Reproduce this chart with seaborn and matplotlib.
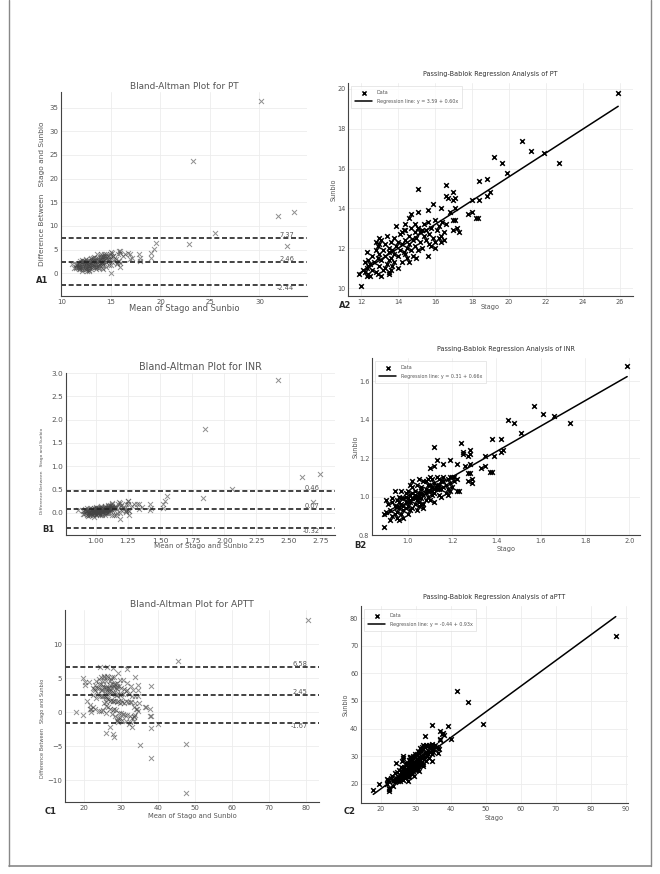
import numpy as np
import pandas as pd
import matplotlib
matplotlib.use('Agg')
import matplotlib.pyplot as plt
import seaborn as sns
from matplotlib.lines import Line2D

# --- PT (stago, sunbio) pairs ---
pt_stago = [
    25.9, 20.7, 21.2, 21.9, 22.7, 19.2, 19.6, 19.9, 18.4, 18.8, 18.4, 18.8, 18.95, 18.0, 18.0, 17.8, 18.2, 18.3,
    15.1, 16.6, 16.6, 16.7, 17.0, 17.0, 17.1, 17.1, 16.8, 17.0, 17.1, 17.0, 17.2, 17.3, 16.6, 16.3, 15.9, 15.6,
    15.1, 14.7, 14.6, 15.6, 12.0, 11.9, 16.3, 16.5, 16.0, 15.8, 13.5, 13.5, 12.3, 12.5, 12.2, 12.4, 12.3, 12.8,
    13.0, 15.1, 14.4,
    12.3, 12.4, 12.5, 12.6, 12.6, 12.7, 12.8, 12.8, 12.9, 12.9, 13.0, 13.0, 13.1, 13.1, 13.2, 13.2, 13.3, 13.3,
    13.4, 13.4, 13.5, 13.5, 13.6, 13.6, 13.7, 13.7, 13.8, 13.8, 13.9, 13.9, 14.0, 14.0, 14.1, 14.1, 14.2, 14.2,
    14.3, 14.3, 14.4, 14.4, 14.5, 14.5, 14.6, 14.6, 14.7, 14.7, 14.8, 14.8, 14.9, 14.9, 15.0, 15.0, 15.1, 15.2,
    15.2, 15.3, 15.4, 15.4, 15.5, 15.5, 15.6, 15.7, 15.8, 15.9, 16.0, 16.1, 16.2, 16.3, 16.4, 16.5, 12.1, 12.2,
    12.4, 12.9, 13.0, 13.1, 13.3, 13.5, 13.6, 13.8, 14.0, 14.2, 14.4, 14.6, 14.9, 15.1, 15.3, 15.7, 16.0, 16.2,
    # outliers beyond the regression panel
    35.15, 48.35, 37.9, 39.95, 35.7, 29.8,
]
pt_sunbio = [
    19.8, 17.4, 16.9, 16.8, 16.3, 16.6, 16.3, 15.8, 15.4, 15.5, 14.4, 14.6, 14.8, 14.4, 13.8, 13.7, 13.5, 13.5,
    15.0, 15.2, 14.6, 14.5, 14.8, 14.4, 14.5, 14.0, 13.8, 13.4, 13.4, 12.9, 13.0, 12.8, 13.2, 14.0, 14.2, 13.9,
    13.8, 13.7, 13.5, 11.6, 10.1, 10.7, 12.3, 12.4, 12.3, 12.1, 10.7, 10.8, 10.6, 10.6, 10.8, 11.1, 11.8, 12.3,
    12.5, 13.0, 12.9,
    11.0, 11.4, 11.2, 10.9, 11.6, 11.3, 11.9, 10.8, 11.5, 12.1, 11.1, 11.7, 12.4, 11.4, 10.9, 11.9, 11.6, 12.2,
    11.2, 12.6, 11.8, 12.0, 11.5, 12.3, 11.9, 11.1, 12.5, 11.7, 12.1, 13.1, 11.6, 12.3, 11.9, 12.7, 11.3, 12.2,
    12.9, 11.8, 12.4, 13.2, 12.0, 11.5, 12.6, 12.2, 11.9, 13.0, 12.4, 11.6, 12.8, 12.1, 12.5, 11.5, 13.0, 12.3,
    12.8, 12.0, 12.6, 13.2, 12.4, 12.9, 13.3, 12.7, 13.0, 12.5, 13.4, 12.9, 13.1, 12.6, 13.3, 12.8, 10.9, 11.3,
    10.7, 10.7, 12.2, 10.6, 11.0, 11.4, 10.9, 11.3, 11.0, 12.8, 11.7, 11.3, 13.2, 11.9, 12.9, 12.2, 12.0, 12.5,
    11.45, 12.05, 25.9, 27.05, 29.9, 21.2,
]

# --- INR (stago, sunbio) pairs ---
inr_stago = [
    1.99, 1.57, 1.61, 1.66, 1.73, 1.45, 1.48, 1.51, 1.38, 1.42, 1.42, 1.43, 1.39, 1.35, 1.35, 1.33, 1.37, 1.38,
    1.12, 1.24, 1.25, 1.25, 1.28, 1.28, 1.27, 1.28, 1.26, 1.27, 1.28, 1.29, 1.29, 1.27, 1.22, 1.19, 1.16, 1.12,
    1.10, 1.13, 1.21, 1.22, 1.22, 1.23, 1.19, 1.18, 0.89, 1.02, 1.01, 0.89, 0.90, 0.90, 0.91, 0.92, 0.93, 0.94,
    0.96, 0.95,
    0.92, 0.93, 0.94, 0.95, 0.95, 0.96, 0.96, 0.97, 0.97, 0.98, 0.98, 0.99, 0.99, 1.00, 1.00, 1.00, 1.01, 1.01,
    1.02, 1.02, 1.03, 1.03, 1.04, 1.04, 1.05, 1.05, 1.06, 1.06, 1.07, 1.07, 1.08, 1.08, 1.09, 1.09, 1.10, 1.10,
    1.11, 1.11, 1.12, 1.12, 1.13, 1.13, 1.14, 1.14, 1.15, 1.15, 1.16, 1.17, 1.17, 1.18, 0.93, 0.94, 0.96, 0.97,
    0.98, 0.99, 1.00, 1.01, 1.02, 1.03, 1.04, 1.05, 1.06, 1.07, 1.08, 1.09, 1.10, 1.11, 1.12, 1.13, 1.14, 1.15,
    1.16, 1.18, 1.19, 1.20, 1.20, 1.21, 1.05, 1.07, 0.95, 0.97, 0.99, 1.01, 1.03, 1.05, 1.06, 1.08, 1.10, 1.12,
    0.98, 1.00, 1.02, 1.04, 1.06, 1.09, 1.11, 1.14, 1.16, 1.19,
    # outliers beyond the regression panel
    3.845, 2.745, 2.98, 3.15, 2.31, 2.80,
]
inr_sunbio = [
    1.68, 1.47, 1.43, 1.42, 1.38, 1.40, 1.38, 1.33, 1.30, 1.30, 1.23, 1.24, 1.21, 1.21, 1.16, 1.15, 1.13, 1.13,
    1.26, 1.28, 1.23, 1.22, 1.24, 1.22, 1.21, 1.17, 1.16, 1.12, 1.12, 1.09, 1.07, 1.08, 1.17, 1.19, 1.17, 1.16,
    1.15, 1.19, 1.10, 1.09, 1.03, 1.03, 1.03, 1.01, 0.84, 1.08, 1.06, 0.91, 0.92, 0.98, 0.96, 0.88, 0.97, 1.03,
    0.88, 0.89,
    0.93, 0.90, 0.95, 0.92, 0.98, 0.94, 1.00, 0.91, 0.96, 0.99, 0.93, 0.97, 1.02, 0.95, 0.99, 0.91, 0.97, 1.01,
    0.94, 0.99, 1.03, 0.96, 1.00, 0.93, 1.02, 0.97, 1.05, 0.99, 1.01, 0.96, 1.04, 1.08, 1.00, 1.06, 1.03, 0.98,
    1.05, 1.09, 1.02, 1.07, 1.04, 1.10, 1.06, 1.01, 1.08, 1.04, 1.10, 1.06, 1.02, 1.09, 0.99, 0.91, 0.97, 1.03,
    0.89, 0.94, 1.03, 0.93, 1.05, 0.99, 1.06, 0.95, 1.02, 1.08, 0.98, 1.03, 1.10, 1.01, 0.97, 1.06, 1.09, 1.00,
    1.05, 1.04, 1.07, 1.10, 1.05, 1.08, 1.09, 0.94, 0.95, 0.99, 1.00, 0.98, 1.01, 1.00, 1.04, 1.02, 1.06, 1.04,
    0.95, 0.97, 1.02, 0.98, 0.96, 1.09, 1.03, 1.04, 1.08, 1.10,
    0.995, 0.955, 2.22, 2.33, 1.81, 2.58,
]

# --- APTT (stago, sunbio) pairs ---
aptt_stago = [
    87.1, 41.6, 45.0, 49.1, 34.5, 39.2, 36.8, 37.5, 38.0, 32.5, 40.0, 36.8, 17.8, 19.4, 22.2, 22.4, 21.6, 22.0,
    24.4, 36.2, 36.5,
    23.5, 24.0, 24.2, 24.5, 24.8, 25.0, 25.2, 25.4, 25.5, 25.7, 25.9, 26.0, 26.1, 26.3, 26.4, 26.5, 26.6, 26.8,
    26.9, 27.0, 27.1, 27.2, 27.3, 27.4, 27.5, 27.6, 27.7, 27.8, 27.9, 28.0, 28.1, 28.2, 28.3, 28.4, 28.5, 28.6,
    28.7, 28.8, 28.9, 29.0, 29.1, 29.2, 29.3, 29.4, 29.5, 29.6, 29.7, 29.8, 29.9, 30.0, 30.1, 30.2, 30.3, 30.4,
    30.5, 30.6, 30.8, 30.9, 31.0, 31.1, 31.2, 31.4, 31.5, 31.6, 31.8, 32.0, 32.1, 32.3, 32.5, 32.7, 32.9, 33.0,
    33.2, 33.5, 33.7, 34.0, 34.3, 34.6, 35.0, 35.4, 26.2, 26.7, 27.2, 27.8, 28.3, 28.8, 29.3, 29.8, 30.3, 30.9,
    31.4, 32.0, 32.6, 33.1, 33.6, 24.6, 25.3, 25.8, 30.6, 31.7, 27.0, 27.5, 28.0, 28.5, 29.0, 29.5, 30.0, 30.5,
    26.0, 26.5, 27.3, 28.6, 29.6, 31.2, 32.8, 22.8, 23.2, 24.0, 28.1, 29.1, 33.4, 34.8, 35.8, 36.2, 33.9, 34.5,
    29.4, 31.0, 30.7, 27.6, 26.2, 26.3, 25.9, 31.9, 28.3, 28.3, 28.2, 37.6, 36.9, 34.3, 34.6, 33.2, 21.7, 21.9,
    22.3, 23.4, 22.0, 24.2, 34.7, 32.0,
]
aptt_sunbio = [
    73.5, 53.5, 49.7, 41.6, 41.3, 40.9, 39.2, 38.0, 37.5, 37.4, 36.2, 36.0, 17.8, 19.8, 17.2, 18.0, 20.0, 21.5,
    27.5, 31.0, 32.5,
    21.0, 20.5, 22.1, 21.3, 20.8, 22.4, 21.7, 23.0, 20.9, 22.2, 23.6, 21.8, 22.9, 24.0, 21.5, 23.3, 22.5, 24.4,
    23.0, 21.9, 24.1, 23.5, 25.2, 22.8, 24.6, 23.9, 26.0, 24.2, 22.6, 25.1, 24.5, 26.4, 23.7, 25.6, 24.9, 27.0,
    25.3, 23.5, 26.1, 25.0, 27.4, 24.6, 26.5, 25.8, 28.0, 26.9, 24.8, 27.3, 26.2, 28.4, 25.9, 27.7, 26.7, 29.0,
    27.1, 25.5, 28.3, 27.0, 29.5, 26.8, 28.6, 27.6, 30.2, 28.0, 29.2, 27.3, 30.5, 28.9, 31.0, 29.6, 28.2, 31.5,
    30.0, 32.0, 29.4, 31.6, 33.0, 30.8, 32.6, 34.0, 25.3, 26.0, 26.8, 27.5, 27.9, 28.5, 29.4, 29.9, 30.6, 31.3,
    31.8, 32.6, 33.4, 33.8, 34.0, 24.4, 25.0, 25.9, 31.9, 33.2, 24.8, 25.5, 22.9, 26.8, 23.8, 25.4, 24.9, 26.3,
    24.6, 25.0, 27.6, 29.5, 30.8, 32.9, 34.1, 22.0, 22.7, 23.8, 28.7, 30.0, 30.7, 31.5, 33.4, 33.0, 33.2, 34.3,
    22.7, 24.5, 28.9, 20.9, 29.4, 30.0, 28.1, 34.1, 29.6, 29.8, 29.4, 38.2, 36.2, 33.8, 34.1, 33.8, 21.7, 21.4,
    18.3, 19.0, 21.0, 20.8, 28.3, 26.3,
]

# Bland-Altman bias and limits of agreement (upper, mean, lower)
pt_lines = [7.37, 2.46, -2.44]
inr_lines = [0.46, 0.07, -0.32]
aptt_lines = [6.58, 2.45, -1.67]

# Passing-Bablok coefficients (intercept, slope)
pt_coef = (3.59, 0.60)
inr_coef = (0.31, 0.66)
aptt_coef = (-0.44, 0.93)

sns.set_theme(style='whitegrid')
plt.rcParams['font.family'] = ['DejaVu Sans']

W, H = 660, 874
fig = plt.figure(figsize=(6.6, 8.74), dpi=100)
GRAY = '#555555'


def rect(l, t, r, b):
    return [l / W, 1 - b / H, (r - l) / W, (b - t) / H]


def style(ax, fs, stretch='normal'):
    for s in ['top', 'right']:
        ax.spines[s].set_visible(False)
    for s in ['left', 'bottom']:
        ax.spines[s].set_color('#444444')
        ax.spines[s].set_linewidth(0.8)
    ax.grid(True, color='#ececec', linewidth=0.6)
    ax.tick_params(length=0, pad=2, labelsize=fs, colors=GRAY)
    for t in ax.get_xticklabels() + ax.get_yticklabels():
        t.set_fontstretch(stretch)


def bland_altman(box, stago, sunbio, lines, title, xlim, ylim, xticks, yticks, fmt, fs):
    f_title, f_tick, f_xl, f_yl, yl_pos, xl_pos = fs
    ax = fig.add_axes(rect(*box))
    s = np.array(stago)
    b = np.array(sunbio)
    df = pd.DataFrame({'mean': (s + b) / 2, 'diff': s - b})
    sns.scatterplot(data=df, x='mean', y='diff', marker='x', color='#444444', alpha=0.6,
                    s=13, linewidth=0.7, ax=ax)
    xr = df['mean'].max()
    for i, v in enumerate(lines):
        ax.axhline(v, color='#222222', linestyle=(0, (3, 1.6)), linewidth=1.2)
        ax.text(xr, v, f'{v:.2f}', ha='right', va='bottom' if i < 2 else 'top',
                fontsize=4.8, color=GRAY)
    ax.set_xlim(*xlim)
    ax.set_ylim(*ylim)
    ax.set_xticks(xticks)
    ax.set_yticks(yticks)
    ax.xaxis.set_major_formatter(plt.FormatStrFormatter(fmt))
    ax.set_title(title, fontsize=f_title, color=GRAY, pad=2)
    ax.set_xlabel('Mean of Stago and Sunbio', fontsize=f_xl, color=GRAY)
    ax.set_ylabel('Difference Between   Stago and Sunbio', fontsize=f_yl, color=GRAY)
    ax.yaxis.set_label_coords(*yl_pos)
    ax.xaxis.set_label_coords(*xl_pos)
    style(ax, f_tick)
    return ax


def passing_bablok(box, stago, sunbio, coef, title, xmax, xlim, ylim, xticks, yticks, yl_pos, xl_pos):
    ax = fig.add_axes(rect(*box))
    s = np.array(stago)
    b = np.array(sunbio)
    keep = s <= xmax
    df = pd.DataFrame({'Stago': s[keep], 'Sunbio': b[keep]})
    sns.scatterplot(data=df, x='Stago', y='Sunbio', marker='x', color='black', s=11,
                    linewidth=1.1, label='Data', ax=ax)
    xs = np.array([df['Stago'].min(), df['Stago'].max()])
    a, k = coef
    lbl = f'Regression line: y = {a:.2f} + {k:.2f}x'
    sns.lineplot(x=xs, y=a + k * xs, color='black', linewidth=1.1, label=lbl, ax=ax)
    ax.set_xlim(*xlim)
    ax.set_ylim(*ylim)
    ax.set_xticks(xticks)
    ax.set_yticks(yticks)
    ax.set_title(title, fontsize=5.2, color='#333333', pad=5, fontstretch='condensed')
    ax.set_xlabel('Stago', fontsize=5.2, color=GRAY, fontstretch='condensed')
    ax.set_ylabel('Sunbio', fontsize=5.2, color=GRAY, fontstretch='condensed')
    ax.yaxis.set_label_coords(*yl_pos)
    ax.xaxis.set_label_coords(*xl_pos)
    leg = ax.legend(loc='upper left', prop={'size': 3.9, 'stretch': 'condensed'}, frameon=True,
                    fancybox=False, borderpad=0.7, handlelength=3.2, labelspacing=0.8,
                    markerscale=0.9, borderaxespad=0.6)
    leg.get_frame().set_edgecolor('#dddddd')
    leg.get_frame().set_linewidth(0.6)
    for t in leg.get_texts():
        t.set_color(GRAY)
    style(ax, 5.2, 'condensed')
    return ax


bland_altman((61, 92, 307, 296), pt_stago, pt_sunbio, pt_lines, 'Bland-Altman Plot for PT',
             (9.95, 34.8), (-4.8, 38.3), [10, 15, 20, 25, 30], range(0, 36, 5), '%d',
             (6.4, 5.0, 6.0, 5.3, (-0.065, 0.5), (0.5, -0.04)))
passing_bablok((348, 83, 633, 296), pt_stago, pt_sunbio, pt_coef,
               'Passing-Bablok Regression Analysis of PT', 26,
               (11.3, 26.7), (9.6, 20.3), range(12, 27, 2), range(10, 21, 2),
               (-0.039, 0.5), (0.5, -0.038))

bland_altman((66, 373, 335, 535), inr_stago, inr_sunbio, inr_lines, 'Bland-Altman Plot for INR',
             (0.77, 2.86), (-0.48, 3.0), np.arange(1.0, 2.76, 0.25), np.arange(0, 3.01, 0.5), '%.2f',
             (6.9, 5.3, 5.1, 3.2, (-0.082, 0.395), (0.5, -0.05)))
passing_bablok((372, 358, 640, 535), inr_stago, inr_sunbio, inr_coef,
               'Passing-Bablok Regression Analysis of INR', 2.0,
               (0.838, 2.048), (0.8, 1.72), np.arange(1.0, 2.01, 0.2), np.arange(0.8, 1.61, 0.2),
               (-0.049, 0.5), (0.5, -0.062))

bland_altman((65, 610, 319, 802), aptt_stago, aptt_sunbio, aptt_lines, 'Bland-Altman Plot for APTT',
             (14.8, 83.4), (-13.2, 15.0), range(20, 81, 10), [-10, -5, 0, 5, 10], '%d',
             (6.6, 5.0, 4.9, 3.6, (-0.079, 0.385), (0.5, -0.057)))
passing_bablok((361, 606, 628, 803), aptt_stago, aptt_sunbio, aptt_coef,
               'Passing-Bablok Regression Analysis of aPTT', 100,
               (14.3, 90.6), (13.0, 84.4), range(20, 91, 10), range(20, 81, 10),
               (-0.045, 0.5), (0.5, -0.063))

# panel tags
for tag, x, y in [('A1', 42, 280), ('A2', 345, 305), ('B1', 48, 530),
                  ('B2', 360, 545), ('C1', 51, 812), ('C2', 350, 812)]:
    fig.text(x / W, 1 - y / H, tag, fontsize=6, fontweight='bold', ha='center', va='center')

# outer frame
fc = '#888888'
fig.add_artist(Line2D([9 / W, 9 / W], [1 - 866 / H, 1], transform=fig.transFigure, color=fc, lw=1))
fig.add_artist(Line2D([651 / W, 651 / W], [1 - 866 / H, 1], transform=fig.transFigure, color=fc, lw=1))
fig.add_artist(Line2D([9 / W, 651 / W], [1 - 866 / H, 1 - 866 / H], transform=fig.transFigure, color=fc, lw=1.2))

fig.savefig('out.png', dpi=100)
